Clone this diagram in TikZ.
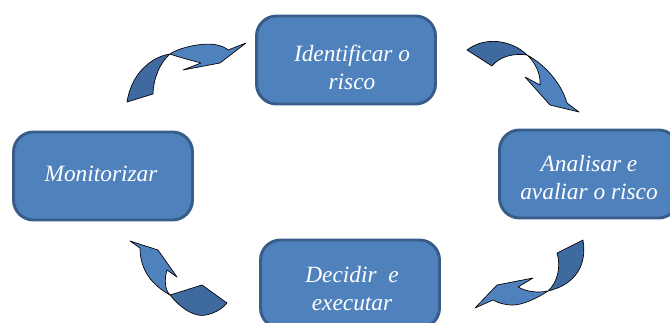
\documentclass[tikz,border=0pt]{standalone}
\usepackage{fontspec}
\setmainfont{Liberation Serif}
\definecolor{boxfill}{HTML}{4F81BD}
\definecolor{boxedge}{HTML}{385D8A}
\definecolor{backfill}{HTML}{3F6A9F}
\begin{document}
\begin{tikzpicture}[x=0.75pt,y=-0.75pt,
  stepbox/.style={draw=boxedge, fill=boxfill, line width=2.2pt, rounded corners=15pt,
    minimum width=134.25pt, minimum height=66pt, inner sep=0pt},
  steptext/.style={text=white, align=center, inner sep=0pt,
    font=\fontsize{17.5}{21}\selectfont\itshape},
  arrfront/.style={fill=boxfill, draw=black, line width=0.5pt, line join=round},
  arrback/.style={fill=backfill, draw=black, line width=0.5pt, line join=round}]
\clip (0,0) rectangle (670,322);
\useasboundingbox (0,0) rectangle (670,322);

% boxes
\node[stepbox] (b1) at (346,60) {};
\node[stepbox] (b2) at (589,174) {};
\node[stepbox] (b3) at (350,284) {};
\node[stepbox] (b4) at (103,176) {};

\node[steptext] (t1) at (352,67) {Identificar o\\risco};
\node[steptext] (t2) at (589,178) {Analisar e\\avaliar o risco};
\node[steptext] (t3) at (352,289) {Decidir~ e\\executar};
\node[steptext] (t4) at (101,174) {Monitorizar};

% top-left arrow
\draw[arrfront] (170,54) .. controls (180,47) and (205,42) .. (217,45) .. controls (222,46) and (226,48) .. (228,50)
   -- (246,43) -- (220,63) -- (183,70) -- (201,63) .. controls (190,60) and (178,57) .. cycle;
\draw[arrback] (170,54) .. controls (155,56) and (132,70) .. (127,102) -- (153,94)
   .. controls (153,80) and (160,62) .. cycle;

% top-right arrow
\draw[arrfront] (527,55) .. controls (546,65) and (562,85) .. (567,103) -- (579,112) -- (550,105) -- (525,77)
   -- (540,85) .. controls (541,74) and (535,62) .. cycle;
\draw[arrback] (527,55) .. controls (512,40) and (485,36) .. (467,50) -- (492,66)
   .. controls (500,56) and (515,53) .. cycle;

% bottom-right arrow
\draw[arrfront] (548,291) .. controls (536,299) and (522,305) .. (513,305) .. controls (505,305) and (498,303) .. (493,300)
   -- (475,308) -- (497,285) -- (533,278) -- (518,287) .. controls (527,292) and (538,293) .. cycle;
\draw[arrback] (548,291) .. controls (570,286) and (588,270) .. (583,240) -- (557,253)
   .. controls (561,266) and (558,282) .. cycle;

% bottom-left arrow
\draw[arrfront] (170,295) .. controls (152,285) and (140,270) .. (140,248) -- (130,241) -- (158,250) -- (177,277)
   -- (167,270) .. controls (164,280) and (165,290) .. cycle;
\draw[arrback] (170,295) .. controls (180,292) and (192,288) .. (202,285) -- (227,303)
   .. controls (220,312) and (205,317) .. (198,315) .. controls (188,313) and (178,305) .. cycle;
\end{tikzpicture}
\end{document}
